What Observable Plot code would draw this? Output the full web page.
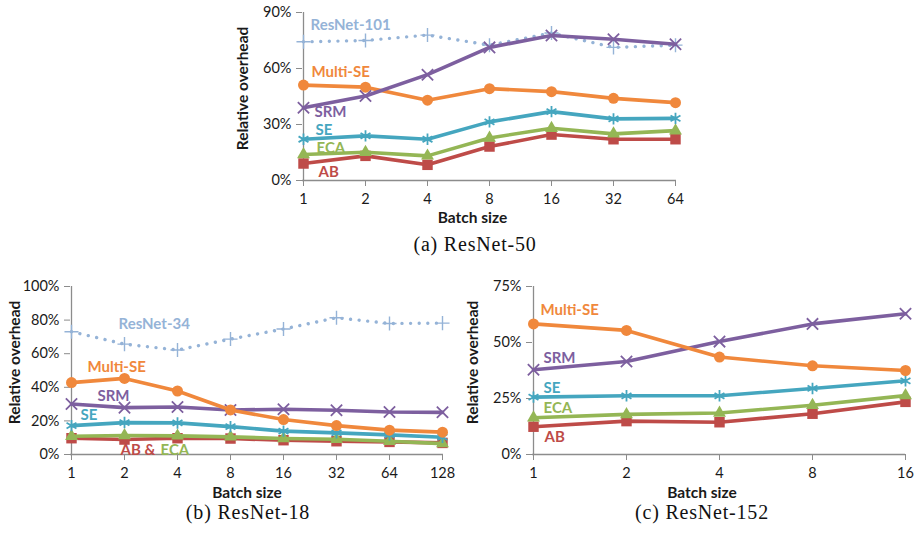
<!DOCTYPE html>
<html>
<head>
<meta charset="utf-8">
<script src="https://cdn.jsdelivr.net/npm/d3@7"></script>
<script src="https://cdn.jsdelivr.net/npm/@observablehq/plot@0.6"></script>
<style>
  body { margin: 0; background: #fff; }
  #root { position: relative; width: 915px; height: 533px; overflow: hidden; background: #fff; }
  .panel { position: absolute; }
  .panel svg { overflow: visible; }
  .cap { position: absolute; font-family: "Liberation Serif", serif; font-size: 20px; letter-spacing: 0.8px;
         color: #111; transform: translate(-50%, -50%); white-space: nowrap; }
</style>
</head>
<body>
<div id="root"></div>
<script>
// ---------- data ----------
// (a) ResNet-50
const batchA = [1, 2, 4, 8, 16, 32, 64];
const a_resnet101 = [74.3, 75.0, 77.9, 72.5, 79.0, 71.3, 72.5];
const a_srm       = [39.0, 45.3, 56.7, 71.3, 77.7, 75.7, 73.0];
const a_multise   = [51.1, 50.0, 43.0, 49.2, 47.6, 44.0, 41.7];
const a_se        = [22.1, 23.9, 22.1, 31.4, 36.9, 33.0, 33.3];
const a_eca       = [13.9, 15.1, 13.2, 22.8, 28.0, 25.0, 26.7];
const a_ab        = [9.1, 13.2, 8.4, 18.2, 24.6, 22.1, 22.1];
const a_yticks    = [0, 0.3, 0.6, 0.9];

// (b) ResNet-18
const batchB = [1, 2, 4, 8, 16, 32, 64, 128];
const b_resnet34  = [73.1, 65.7, 62.2, 68.7, 74.7, 81.4, 78.0, 78.2];
const b_multise   = [42.8, 45.3, 37.8, 26.5, 20.8, 17.2, 14.5, 13.3];
const b_srm       = [30.1, 27.9, 28.3, 26.5, 26.9, 26.3, 25.3, 25.1];
const b_se        = [17.2, 19.0, 18.8, 16.6, 13.9, 12.9, 11.7, 10.3];
const b_eca       = [10.9, 11.3, 11.1, 10.5, 9.5, 9.1, 7.9, 6.5];
const b_ab        = [9.7, 8.9, 9.7, 9.5, 8.5, 7.9, 7.5, 6.9];
const b_yticks    = [0, 0.2, 0.4, 0.6, 0.8, 1.0];

// (c) ResNet-152
const batchC = [1, 2, 4, 8, 16];
const c_multise   = [58.3, 55.4, 43.5, 39.6, 37.5];
const c_srm       = [37.8, 41.5, 50.4, 58.3, 62.8];
const c_se        = [25.6, 26.2, 26.2, 29.5, 32.9];
const c_eca       = [16.4, 17.9, 18.5, 22.0, 26.3];
const c_ab        = [12.4, 14.9, 14.4, 18.2, 23.5];
const c_yticks    = [0, 0.25, 0.5, 0.75];

const captions = ["(a) ResNet-50", "(b) ResNet-18", "(c) ResNet-152"];

// ---------- styles ----------
const GRAY = "#8c8c8c";
const TXT = "#1a1a1a";
const COL = {
  resnet: "#95B3D7", multise: "#F0883C", srm: "#7D5F9F",
  se: "#45A6BF", eca: "#94B655", ab: "#BE4B48"
};
const SYM = {
  resnet: {symbol: "plus", r: 4.6, stroke: true},
  multise: {symbol: "circle", r: 5.5},
  srm: {symbol: "times", r: 5.2, stroke: true},
  se: {symbol: "asterisk", r: 5.4, stroke: true},
  eca: {symbol: "triangle", r: 4.8},
  ab: {symbol: "square", r: 5.9}
};

function makePanel(cfg) {
  const cats = cfg.batch.map(String);
  const marks = [];
  marks.push(Plot.ruleY([0], {stroke: GRAY, strokeWidth: 1.3}));
  marks.push(Plot.ruleX([cats[0]], {y1: 0, y2: cfg.ymax, stroke: GRAY, strokeWidth: 1.3}));
  marks.push(Plot.axisY({ticks: cfg.yticks, tickFormat: d3.format(".0%"), tickSize: 6, tickPadding: 5,
    stroke: GRAY, fill: TXT, fontSize: 14.5, label: null}));
  marks.push(Plot.axisX({tickSize: 6, tickPadding: 7, stroke: GRAY, fill: TXT, fontSize: 14.5, label: null}));
  for (const s of cfg.series) {
    const rows = cats.map((c, i) => ({x: c, y: s.values[i] / 100}));
    const color = COL[s.key];
    const dotted = s.key === "resnet";
    marks.push(Plot.line(rows, {x: "x", y: "y", stroke: color,
      strokeWidth: dotted ? 3.4 : 3.6, strokeLinecap: "round", strokeLinejoin: "round",
      ...(dotted ? {strokeDasharray: "0.01 8.6"} : {})}));
    const sy = SYM[s.key];
    marks.push(Plot.dot(rows, {x: "x", y: "y", symbol: sy.symbol, r: sy.r,
      ...(sy.stroke ? {stroke: color, strokeWidth: dotted ? 1.4 : 1.8, fill: "none"} : {fill: color, stroke: "none"})}));
  }
  for (const l of cfg.labels) {
    marks.push(Plot.text([l], {x: () => cats[0], y: () => l.y, text: () => l.t, dx: l.dx,
      textAnchor: "start", fill: COL[l.key], fontWeight: "bold", fontSize: 15, fontFamily: "Lato"}));
  }
  marks.push(Plot.text(["Relative overhead"], {frameAnchor: "left", rotate: -90, dx: cfg.ytDx, dy: -8,
    textAnchor: "middle", lineAnchor: "middle",
    fill: TXT, fontWeight: "bold", fontSize: 15.5, fontFamily: "Lato"}));
  marks.push(Plot.text(["Batch size"], {frameAnchor: "bottom", dx: cfg.xtDx, dy: cfg.xtDy,
    textAnchor: "middle", lineAnchor: "middle",
    fill: TXT, fontWeight: "bold", fontSize: 15.5, fontFamily: "Lato"}));

  const svg = Plot.plot({
    width: cfg.width, height: cfg.height,
    marginLeft: cfg.ml, marginRight: cfg.mr, marginTop: cfg.mt, marginBottom: cfg.mb,
    x: {type: "point", domain: cats, padding: 0},
    y: {domain: [0, cfg.ymax]},
    style: {fontFamily: "Lato", fontSize: "14px", background: "transparent", color: TXT},
    marks
  });
  const wrap = document.createElement("div");
  wrap.className = "panel";
  wrap.style.left = cfg.left + "px";
  wrap.style.top = cfg.top + "px";
  wrap.appendChild(svg);
  document.getElementById("root").appendChild(wrap);
}

function addCaption(text, cx, cy) {
  const d = document.createElement("div");
  d.className = "cap";
  d.textContent = text;
  d.style.left = cx + "px";
  d.style.top = cy + "px";
  document.getElementById("root").appendChild(d);
}

makePanel({
  left: 230, top: 0, width: 460, height: 260, ml: 72, mr: 14, mt: 12, mb: 80,
  batch: batchA, ymax: 0.9, yticks: a_yticks, ytDx: -59, xtDx: -17, xtDy: 38,
  series: [
    {key: "resnet", values: a_resnet101},
    {key: "ab", values: a_ab},
    {key: "eca", values: a_eca},
    {key: "se", values: a_se},
    {key: "multise", values: a_multise},
    {key: "srm", values: a_srm}
  ],
  labels: [
    {t: "ResNet-101", key: "resnet", y: 0.83, dx: 7},
    {t: "Multi-SE", key: "multise", y: 0.579, dx: 8},
    {t: "SRM", key: "srm", y: 0.364, dx: 11},
    {t: "SE", key: "se", y: 0.268, dx: 12},
    {t: "ECA", key: "eca", y: 0.175, dx: 13},
    {t: "AB", key: "ab", y: 0.043, dx: 15}
  ]
});

makePanel({
  left: 0, top: 270, width: 460, height: 263, ml: 70, mr: 17, mt: 16, mb: 79,
  batch: batchB, ymax: 1.0, yticks: b_yticks, ytDx: -55, xtDx: -10, xtDy: 39,
  series: [
    {key: "resnet", values: b_resnet34},
    {key: "ab", values: b_ab},
    {key: "eca", values: b_eca},
    {key: "se", values: b_se},
    {key: "srm", values: b_srm},
    {key: "multise", values: b_multise}
  ],
  labels: [
    {t: "ResNet-34", key: "resnet", y: 0.776, dx: 47},
    {t: "Multi-SE", key: "multise", y: 0.519, dx: 16},
    {t: "SRM", key: "srm", y: 0.35, dx: 26},
    {t: "SE", key: "se", y: 0.236, dx: 9},
    {t: "AB &", key: "ab", y: 0.024, dx: 49},
    {t: "ECA", key: "eca", y: 0.024, dx: 89}
  ]
});

makePanel({
  left: 460, top: 270, width: 455, height: 263, ml: 72, mr: 10, mt: 16, mb: 79,
  batch: batchC, ymax: 0.75, yticks: c_yticks, ytDx: -59, xtDx: -17, xtDy: 39,
  series: [
    {key: "ab", values: c_ab},
    {key: "eca", values: c_eca},
    {key: "se", values: c_se},
    {key: "srm", values: c_srm},
    {key: "multise", values: c_multise}
  ],
  labels: [
    {t: "Multi-SE", key: "multise", y: 0.643, dx: 7},
    {t: "SRM", key: "srm", y: 0.432, dx: 10},
    {t: "SE", key: "se", y: 0.298, dx: 10},
    {t: "ECA", key: "eca", y: 0.207, dx: 10},
    {t: "AB", key: "ab", y: 0.077, dx: 11}
  ]
});

addCaption(captions[0], 475, 244);
addCaption(captions[1], 248, 512);
addCaption(captions[2], 702, 512);
</script>
</body>
</html>
